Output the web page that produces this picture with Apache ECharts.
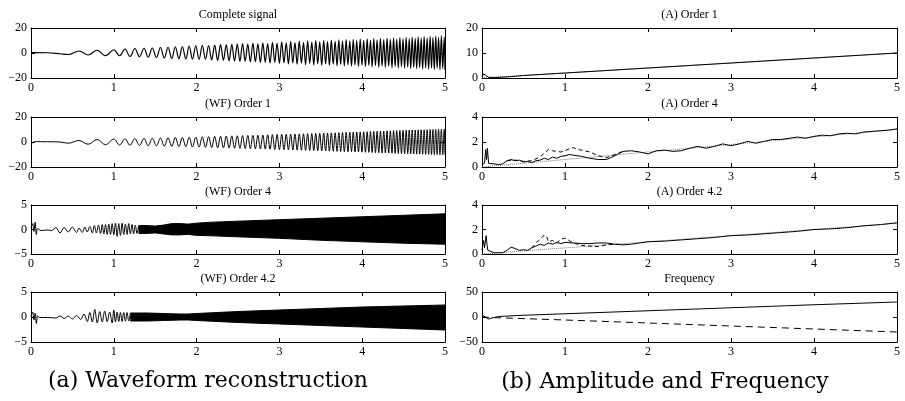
<!DOCTYPE html>
<html>
<head>
<meta charset="utf-8">
<title>Order tracking</title>
<script src="https://cdn.jsdelivr.net/npm/echarts@6/dist/echarts.min.js"></script>
<style>
html, body { margin:0; padding:0; background:#fff; }
#charts { width:905px; height:401px; }
</style>
</head>
<body>
<div id="charts"></div>
<script>
// turning points of the order 1 chirp (shared by complete signal and WF order 1)
var waveT = [0, 0.05, 0.2, 0.35, 0.45, 0.58, 0.69, 0.80, 0.90, 1.00,
  1.07, 1.135, 1.195, 1.255, 1.31, 1.365, 1.415, 1.465,
  1.515, 1.563, 1.61, 1.655, 1.70, 1.743, 1.786, 1.828, 1.87, 1.91, 1.95, 1.99,
  2.03, 2.069, 2.107, 2.145, 2.182, 2.218, 2.254, 2.289, 2.324, 2.358, 2.392, 2.425, 2.458, 2.491,
  2.523, 2.555, 2.587, 2.618, 2.649, 2.68, 2.71, 2.74, 2.77, 2.8, 2.829, 2.858, 2.887, 2.916, 2.944, 2.972, 3.0,
  3.028, 3.055, 3.082, 3.109, 3.136, 3.162, 3.188, 3.214, 3.24, 3.266, 3.291, 3.316, 3.341, 3.366, 3.391, 3.415, 3.439, 3.463, 3.487,
  3.511, 3.535, 3.558, 3.581, 3.604, 3.627, 3.65, 3.673, 3.696, 3.718, 3.74, 3.762, 3.784, 3.806, 3.828, 3.85, 3.871, 3.892, 3.913, 3.934, 3.955, 3.976, 3.997,
  4.018, 4.039, 4.06, 4.08, 4.1, 4.12, 4.14, 4.16, 4.18, 4.2, 4.22, 4.24, 4.26, 4.28, 4.3, 4.32, 4.34, 4.36, 4.379, 4.398, 4.417, 4.436, 4.455, 4.474, 4.493,
  4.512, 4.531, 4.55, 4.568, 4.586, 4.604, 4.622, 4.64, 4.658, 4.676, 4.694, 4.712, 4.73, 4.748, 4.766, 4.784, 4.802, 4.82, 4.837, 4.854, 4.871, 4.888, 4.905, 4.922, 4.939, 4.956, 4.973, 4.99, 5.0];

var completeY = [0.3, 0.3, 0.2, -0.6, -1.2, 1.6, -1.6, 2.2, -2.2, 2.6,
  -2.2, 3.2, -2.8, 3.6, -3.0, 3.8, -3.4, 4.0,
  -3.6, 4.4, -4.0, 4.6, -4.4, 5.0, -4.6, 5.2, -4.8, 5.6, -5.0, 5.8,
  -5.2, 6.2, -5.0, 6.0, -5.6, 6.4, -6.0, 6.8, -5.8, 6.6, -6.4, 7.0, -6.6, 7.2,
  -6.8, 7.6, -6.6, 7.2, -7.2, 7.8, -7.0, 7.4, -7.6, 8.2, -7.4, 7.6, -8.0, 8.6, -7.6, 8.0, -8.4,
  9.0, -7.8, 8.2, -8.8, 9.4, -8.0, 8.4, -9.0, 9.6, -8.2, 8.6, -9.4, 9.8, -8.4, 8.8, -9.6, 10.0, -8.6, 9.0,
  -9.8, 10.2, -8.8, 9.2, -10.0, 10.4, -9.0, 9.4, -10.2, 10.6, -9.2, 9.6, -10.4, 10.8, -9.4, 9.8, -10.6, 11.0, -9.6, 10.0, -10.8, 11.2, -9.8,
  10.2, -11.0, 11.4, -10.0, 10.4, -11.2, 11.6, -10.2, 10.6, -11.4, 11.8, -10.4, 10.8, -11.6, 12.0, -10.6, 11.0, -11.8, 12.2, -10.8, 11.2, -12.0, 12.4, -11.0, 11.4,
  -12.2, 12.6, -11.2, 11.6, -12.4, 12.8, -11.4, 11.8, -12.6, 13.0, -11.6, 12.0, -12.8, 13.2, -11.8, 12.2, -13.0, 13.4, -12.0, 12.4, -13.2, 13.6, -12.2, 12.6, -13.4, 13.8, -12.4, 12.8, -13.6];

var order1Y = [-1.5, 0.3, 0.2, 0, -1.0, 1.2, -1.8, 2.0, -2.2, 2.4,
  -2.4, 2.5, -2.6, 2.7, -2.8, 2.9, -3.0, 3.0,
  -3.1, 3.2, -3.3, 3.4, -3.5, 3.6, -3.7, 3.7, -3.8, 3.9, -4.0, 4.0,
  -4.1, 4.2, -4.3, 4.3, -4.4, 4.5, -4.6, 4.6, -4.7, 4.8, -4.8, 4.9, -5.0, 5.0,
  -5.1, 5.1, -5.2, 5.3, -5.3, 5.4, -5.5, 5.5, -5.6, 5.6, -5.7, 5.8, -5.8, 5.9, -6.0, 6.0, -6.1,
  6.1, -6.2, 6.2, -6.3, 6.3, -6.4, 6.4, -6.5, 6.5, -6.6, 6.6, -6.7, 6.7, -6.8, 6.8, -6.9, 6.9, -7.0, 7.0,
  -7.1, 7.1, -7.2, 7.2, -7.3, 7.3, -7.4, 7.4, -7.5, 7.5, -7.6, 7.6, -7.7, 7.7, -7.8, 7.8, -7.8, 7.9, -7.9, 8.0, -8.0, 8.1, -8.1,
  8.2, -8.2, 8.3, -8.3, 8.4, -8.4, 8.5, -8.5, 8.6, -8.6, 8.7, -8.7, 8.8, -8.8, 8.9, -8.9, 9.0, -9.0, 9.1, -9.1, 9.1, -9.2, 9.2, -9.3, 9.3,
  -9.4, 9.4, -9.4, 9.5, -9.5, 9.6, -9.6, 9.6, -9.7, 9.7, -9.7, 9.8, -9.8, 9.8, -9.9, 9.9, -9.9, 10.0, -10.0, 10.0, -10.1, 10.1, -10.1, 10.1, -10.2, 10.2, -10.2, 10.2, -10.2];

// WF order 4: readable start, then the dense band (upper / lower edge)
var order4X = [0, 0.02, 0.035, 0.05, 0.065, 0.08, 0.12, 0.2, 0.25, 0.3, 0.35, 0.4, 0.45, 0.5, 0.55, 0.58, 0.62, 0.65, 0.68, 0.71,
  0.74, 0.765, 0.79, 0.815, 0.84, 0.86, 0.88, 0.9, 0.92, 0.94, 0.96, 0.98, 1.0, 1.02, 1.04, 1.06, 1.08, 1.1, 1.12, 1.14,
  1.16, 1.18, 1.2, 1.22, 1.24, 1.26, 1.28, 1.3];
var order4Y = [0.3, 1.2, -0.4, 1.5, -1.0, 0.2, -0.2, -0.1, -0.2, 0.4, -0.7, 0.4, -0.5, 0.5, -0.6, 0.3, -0.6, 0.5, -0.5, 0.6,
  -0.7, 0.8, -0.7, 0.9, -0.8, 1.0, -0.9, 1.0, -1.0, 1.1, -1.0, 1.2, -1.1, 1.3, -1.4, 1.2, -1.2, 1.3, -1.0, 1.1,
  -1.0, 1.2, -0.9, 1.0, -0.9, 0.9, -0.8, 0.8];
var order4BandX = [1.3, 1.4, 1.5, 1.6, 1.7, 1.8, 1.9, 2.0, 2.2, 2.5, 3.0, 3.5, 4.0, 4.5, 5.0];
var order4Upper = [0.8, 0.8, 0.7, 0.9, 1.2, 1.2, 1.1, 1.3, 1.5, 1.7, 2.0, 2.3, 2.6, 2.9, 3.2];
var order4Lower = [-0.8, -0.8, -0.7, -0.9, -1.1, -1.1, -1.0, -1.2, -1.3, -1.5, -1.8, -2.2, -2.5, -2.8, -3.0];

// WF order 4.2
var order42X = [0, 0.02, 0.035, 0.05, 0.065, 0.08, 0.1, 0.2, 0.3, 0.35, 0.4, 0.45, 0.5, 0.55, 0.6, 0.64, 0.68, 0.71, 0.74, 0.77,
  0.8, 0.83, 0.86, 0.89, 0.92, 0.95, 0.98, 1.0, 1.02, 1.04, 1.06, 1.08, 1.1, 1.12, 1.14, 1.16, 1.18, 1.2];
var order42Y = [0.2, 1.0, -0.6, 0.8, -1.3, 0.3, -0.1, -0.1, -0.2, 0.2, -0.3, 0.2, -0.4, 0.3, -0.5, 0.6, -0.9, 0.9, -1.0, 1.5,
  -1.2, 1.1, -1.0, 1.2, -0.9, 1.0, -1.2, 1.4, -1.0, 1.0, -0.9, 0.9, -0.9, 0.9, -0.8, 0.9, -0.8, 0.8];
var order42BandX = [1.2, 1.4, 1.6, 1.8, 1.9, 2.0, 2.5, 3.0, 3.5, 4.0, 4.5, 5.0];
var order42Upper = [0.8, 0.8, 0.7, 0.6, 0.6, 0.7, 1.1, 1.4, 1.7, 2.0, 2.2, 2.4];
var order42Lower = [-0.8, -0.8, -0.7, -0.6, -0.6, -0.7, -1.1, -1.4, -1.7, -2.0, -2.3, -2.6];

// (A) order 1 amplitude
var amp1X = [0, 0.02, 0.04, 0.08, 0.15, 0.3, 0.5, 1, 2, 3, 4, 5];
var amp1Est = [0.5, 1.6, 0.8, 0.3, 0.2, 0.4, 1.0, 2.0, 4.0, 6.0, 8.0, 10.0];
var amp1True = [0, 0.04, 0.08, 0.16, 0.3, 0.6, 1.0, 2.0, 4.0, 6.0, 8.0, 10.0];

// (A) order 4 amplitude
var amp4X = [0, 0.03, 0.045, 0.055, 0.065, 0.08, 0.1, 0.2, 0.25, 0.3, 0.35, 0.4, 0.45, 0.5, 0.55, 0.6, 0.65, 0.7, 0.75, 0.8,
  0.85, 0.9, 0.95, 1.0, 1.05, 1.1, 1.2, 1.3, 1.4, 1.5, 1.6, 1.7, 1.8, 1.9, 2.0, 2.1, 2.2, 2.3, 2.4, 2.5,
  2.6, 2.7, 2.8, 2.9, 3.0, 3.1, 3.2, 3.3, 3.4, 3.5, 3.6, 3.7, 3.8, 3.9, 4.0, 4.1, 4.2, 4.3, 4.4, 4.5,
  4.6, 4.7, 4.8, 4.9, 5.0];
var amp4Est = [0.2, 0.3, 1.4, 0.6, 1.5, 0.3, 0.2, 0.2, 0.25, 0.5, 0.6, 0.5, 0.55, 0.4, 0.45, 0.35, 0.5, 0.55, 0.7, 0.6,
  0.8, 0.7, 0.85, 0.9, 1.0, 0.95, 0.85, 0.7, 0.6, 0.6, 0.9, 1.25, 1.3, 1.2, 1.05, 1.3, 1.35, 1.25, 1.3, 1.5,
  1.65, 1.5, 1.65, 1.85, 1.7, 1.85, 2.05, 1.9, 2.05, 2.2, 2.2, 2.3, 2.4, 2.3, 2.45, 2.55, 2.5, 2.65, 2.7, 2.65,
  2.8, 2.85, 2.9, 2.95, 3.05];
var amp4AltX = [0.3, 0.4, 0.5, 0.6, 0.7, 0.75, 0.8, 0.85, 0.9, 0.95, 1.0, 1.05, 1.1, 1.15, 1.2, 1.3, 1.4, 1.5, 1.6, 1.7];
var amp4Alt = [0.5, 0.55, 0.45, 0.5, 0.8, 1.1, 1.4, 1.3, 1.25, 1.2, 1.3, 1.45, 1.55, 1.4, 1.35, 1.2, 0.9, 0.75, 1.0, 1.25];
var amp4TrueX = [0, 5];
var amp4True = [0, 3];

// (A) order 4.2 amplitude
var amp42X = [0, 0.02, 0.03, 0.04, 0.05, 0.06, 0.07, 0.09, 0.15, 0.25, 0.3, 0.35, 0.4, 0.45, 0.5, 0.55, 0.6, 0.65, 0.7, 0.75,
  0.8, 0.85, 0.9, 0.95, 1.0, 1.1, 1.2, 1.3, 1.4, 1.5, 1.6, 1.7, 1.8, 1.9, 2.0, 2.2, 2.4, 2.6, 2.8, 3.0,
  3.2, 3.4, 3.6, 3.8, 4.0, 4.2, 4.4, 4.6, 4.8, 5.0];
var amp42Est = [0.3, 1.1, 0.5, 1.0, 1.5, 0.8, 0.3, 0.15, 0.1, 0.1, 0.3, 0.55, 0.45, 0.3, 0.35, 0.3, 0.5, 0.65, 0.8, 0.7,
  0.9, 0.8, 0.95, 0.85, 0.95, 0.9, 0.85, 0.85, 0.9, 0.9, 0.8, 0.75, 0.8, 0.9, 1.0, 1.05, 1.15, 1.25, 1.35, 1.5,
  1.55, 1.65, 1.75, 1.85, 2.0, 2.05, 2.15, 2.3, 2.4, 2.55];
var amp42AltX = [0.6, 0.65, 0.7, 0.75, 0.78, 0.8, 0.85, 0.9, 0.95, 1.0, 1.05, 1.1, 1.2, 1.3, 1.4, 1.5, 1.6, 1.7];
var amp42Alt = [0.5, 0.9, 1.2, 1.55, 1.4, 1.0, 1.1, 0.9, 1.2, 1.3, 1.1, 0.9, 0.7, 0.65, 0.6, 0.75, 0.8, 0.75];
var amp42TrueX = [0, 5];
var amp42True = [0, 2.5];

// frequency
var freqX = [0, 0.04, 0.08, 0.12, 0.2, 0.5, 1, 2, 3, 4, 5];
var freqPos = [4, 0, -4, -2, 1, 3.5, 6.5, 12.5, 18.5, 24.5, 30];
var freqNegX = [0, 0.1, 1, 2, 3, 4, 5];
var freqNeg = [0, -1, -6, -12, -18, -24, -30];

var chart = echarts.init(document.getElementById("charts"));
var serif = '"Liberation Serif", "Times New Roman", serif';

function pairs(xs, ys) {
	var out = [];
	var n = Math.min(xs.length, ys.length);
	for (var i = 0; i < n; i++) out.push([xs[i], ys[i]]);
	return out;
}
function minus(v) { return String(v).replace('-', '\u2212'); }

// panel layout
var panels = [
	{ left: 31,  top: 28,  width: 414, height: 50, min: -20, max: 20, step: 20, title: 'Complete signal' },
	{ left: 31,  top: 117, width: 414, height: 50, min: -20, max: 20, step: 20, title: '(WF) Order 1' },
	{ left: 31,  top: 205, width: 414, height: 49, min: -5,  max: 5,  step: 5,  title: '(WF) Order 4' },
	{ left: 31,  top: 292, width: 414, height: 50, min: -5,  max: 5,  step: 5,  title: '(WF) Order 4.2' },
	{ left: 482, top: 28,  width: 415, height: 50, min: 0,   max: 20, step: 10, title: '(A) Order 1' },
	{ left: 482, top: 117, width: 415, height: 50, min: 0,   max: 4,  step: 2,  title: '(A) Order 4' },
	{ left: 482, top: 205, width: 415, height: 49, min: 0,   max: 4,  step: 2,  title: '(A) Order 4.2' },
	{ left: 482, top: 292, width: 415, height: 50, min: -50, max: 50, step: 50, title: 'Frequency' }
];

var grids = [], xAxes = [], yAxes = [], graphics = [];
var axLine = { show: true, onZero: false, lineStyle: { color: '#000', width: 1 } };
var tick = { show: true, inside: true, length: 4, lineStyle: { color: '#000', width: 1 } };

panels.forEach(function (p, i) {
	grids.push({ left: p.left, top: p.top, width: p.width, height: p.height, containLabel: false });
	xAxes.push({ gridIndex: i, type: 'value', min: 0, max: 5, interval: 1, position: 'bottom',
		axisLine: axLine, axisTick: tick, splitLine: { show: false },
		axisLabel: { color: '#000', fontFamily: serif, fontSize: 12, margin: 4 } });
	xAxes.push({ gridIndex: i, type: 'value', min: 0, max: 5, interval: 1, position: 'top',
		axisLine: axLine, axisTick: tick, splitLine: { show: false }, axisLabel: { show: false } });
	yAxes.push({ gridIndex: i, type: 'value', min: p.min, max: p.max, interval: p.step, position: 'left',
		axisLine: axLine, axisTick: tick, splitLine: { show: false },
		axisLabel: { color: '#000', fontFamily: serif, fontSize: 12, margin: 4, formatter: minus,
			showMinLabel: true, showMaxLabel: true } });
	yAxes.push({ gridIndex: i, type: 'value', min: p.min, max: p.max, interval: p.step, position: 'right',
		axisLine: axLine, axisTick: tick, splitLine: { show: false }, axisLabel: { show: false } });
	graphics.push({ type: 'text', x: p.left + p.width / 2, y: p.top - 13,
		style: { text: p.title, fill: '#000', font: '12px ' + serif, align: 'center', verticalAlign: 'middle' } });
});

graphics.push({ type: 'text', x: 208, y: 381,
	style: { text: '(a) Waveform reconstruction', fill: '#000', font: '22px "DejaVu Serif", serif', align: 'center', verticalAlign: 'middle' } });
graphics.push({ type: 'text', x: 665, y: 382,
	style: { text: '(b) Amplitude and Frequency', fill: '#000', font: '22px "DejaVu Serif", serif', align: 'center', verticalAlign: 'middle' } });

function line(i, data, type, color, width) {
	return { type: 'line', xAxisIndex: 2 * i, yAxisIndex: 2 * i, data: data, symbol: 'none', silent: true,
		animation: false, lineStyle: { color: color || '#000', width: width || 1, type: type || 'solid' } };
}
function wave(i, data, width) {
	var s = line(i, data, 'solid', '#000', width);
	s.smooth = 0.35;
	return s;
}
// dense part of a waveform: filled from the edge across the zero line
function band(i, data, origin) {
	var s = line(i, data);
	s.areaStyle = { color: '#000', opacity: 1, origin: origin };
	return s;
}

var series = [
	wave(0, pairs(waveT, completeY), 1.2),
	wave(1, pairs(waveT, order1Y), 1),
	wave(2, pairs(order4X, order4Y), 1),
	band(2, pairs(order4BandX, order4Upper), -0.4),
	band(2, pairs(order4BandX, order4Lower), 0.4),
	wave(3, pairs(order42X, order42Y), 1),
	band(3, pairs(order42BandX, order42Upper), -0.4),
	band(3, pairs(order42BandX, order42Lower), 0.4),
	line(4, pairs(amp1X, amp1True), 'dotted', '#666'),
	line(4, pairs(amp1X, amp1Est)),
	line(5, pairs(amp4TrueX, amp4True), 'dotted', '#777'),
	line(5, pairs(amp4AltX, amp4Alt), [4, 3]),
	line(5, pairs(amp4X, amp4Est)),
	line(6, pairs(amp42TrueX, amp42True), 'dotted', '#777'),
	line(6, pairs(amp42AltX, amp42Alt), [4, 3]),
	line(6, pairs(amp42X, amp42Est)),
	line(7, pairs(freqX, freqPos)),
	line(7, pairs(freqNegX, freqNeg), [7, 5])
];

var option = {
	backgroundColor: '#fff',
	animation: false,
	grid: grids,
	xAxis: xAxes,
	yAxis: yAxes,
	graphic: graphics,
	series: series
};
chart.setOption(option);
</script>
</body>
</html>
